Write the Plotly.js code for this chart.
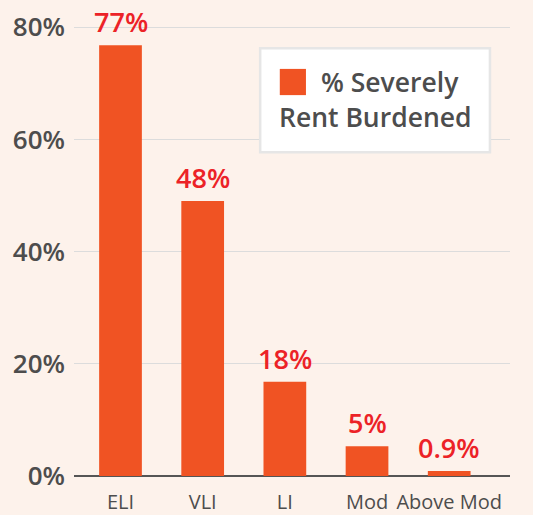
<!DOCTYPE html>
<html>
<head>
<meta charset="utf-8">
<script src="https://cdn.plot.ly/plotly-3.0.1.min.js"></script>
<style>html,body{margin:0;padding:0;background:#fdf2eb;}#chart{width:533px;height:515px;}</style>
</head>
<body>
<div id="chart"></div>
<script>
var categories = ["ELI", "VLI", "LI", "Mod", "Above Mod"];
var severelyBurdened = [76.8, 49, 16.8, 5.3, 0.9];
var valueLabels = ["77%", "48%", "18%", "5%", "0.9%"];
var tickValues = [0, 20, 40, 60, 80];
var tickLabels = ["0%", "20%", "40%", "60%", "80%"];

var barColor = "#f05323";
var labelColor = "#ec2227";
var textGray = "#4d4d4d";
var fontFam = "'Open Sans', sans-serif";

var trace = {
  type: "bar",
  x: categories,
  y: severelyBurdened,
  marker: {color: barColor},
  width: 0.52,
  hoverinfo: "none",
  showlegend: false
};

var valueAnnotations = categories.map(function (c, i) {
  return {
    x: c, y: severelyBurdened[i], xref: "x", yref: "y",
    text: valueLabels[i], showarrow: false,
    xanchor: "center", yanchor: "bottom", yshift: 3,
    font: {family: fontFam, size: 27, color: labelColor, weight: 600}
  };
});

var layout = {
  width: 533,
  height: 515,
  paper_bgcolor: "#fdf2eb",
  plot_bgcolor: "#fdf2eb",
  margin: {l: 74, r: 23, t: 16, b: 39},
  font: {family: fontFam, color: textGray},
  xaxis: {
    range: [-0.566, 4.74],
    showgrid: false,
    zeroline: false,
    showline: false,
    ticks: "",
    ticklabelstandoff: 12,
    tickfont: {size: 20, color: textGray},
    fixedrange: true
  },
  yaxis: {
    range: [0, 82],
    tickvals: tickValues,
    ticktext: tickLabels,
    showgrid: true,
    gridcolor: "#dcdcdc",
    gridwidth: 1,
    zeroline: true,
    zerolinecolor: "#555555",
    zerolinewidth: 2.5,
    showline: false,
    ticks: "",
    ticklabelstandoff: 8,
    tickfont: {size: 26, color: textGray, weight: 600},
    fixedrange: true
  },
  shapes: [
    {type: "rect", xref: "paper", yref: "paper",
     x0: 0.427, x1: 0.954, y0: 0.704, y1: 0.930,
     fillcolor: "#ffffff", line: {color: "#e6e6e6", width: 2.5}, layer: "above"},
    {type: "rect", xref: "paper", yref: "paper",
     x0: 0.472, x1: 0.532, y0: 0.828, y1: 0.885,
     fillcolor: barColor, line: {width: 0}, layer: "above"}
  ],
  annotations: valueAnnotations.concat([
    {xref: "paper", yref: "paper", x: 0.561, y: 0.857, xanchor: "left", yanchor: "middle",
     text: "% Severely", showarrow: false, align: "left",
     font: {family: fontFam, size: 26.5, color: textGray, weight: 600}},
    {xref: "paper", yref: "paper", x: 0.466, y: 0.780, xanchor: "left", yanchor: "middle",
     text: "Rent Burdened", showarrow: false, align: "left",
     font: {family: fontFam, size: 26.5, color: textGray, weight: 600}}
  ])
};

Plotly.newPlot("chart", [trace], layout, {displayModeBar: false, staticPlot: true});
</script>
</body>
</html>
